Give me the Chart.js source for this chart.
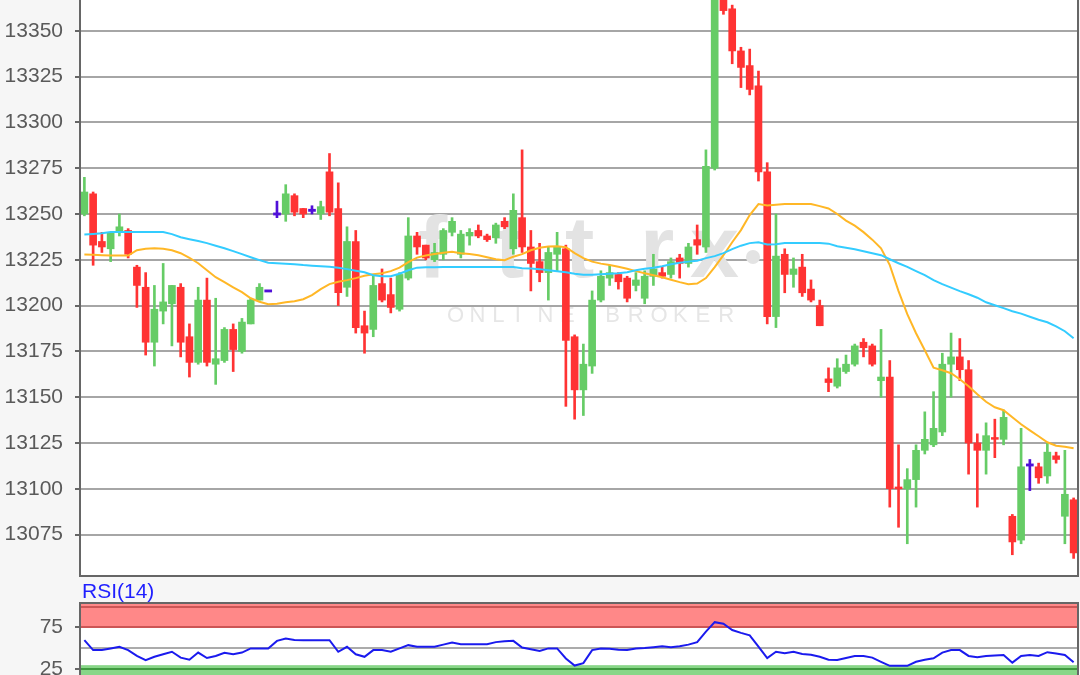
<!DOCTYPE html>
<html>
<head>
<meta charset="utf-8">
<script src="https://cdn.jsdelivr.net/npm/chart.js@4"></script>
<style>
html, body { margin: 0; padding: 0; background: #f6f6f6; overflow: hidden; }
#wrap { position: relative; width: 1080px; height: 675px; }
#priceChart { position: absolute; left: 0; top: 0; }
#rsiChart { position: absolute; left: 0; top: 580px; }
</style>
</head>
<body>
<div id="wrap">
  <canvas id="priceChart" width="1080" height="578"></canvas>
  <canvas id="rsiChart" width="1080" height="113"></canvas>
</div>
<script>
// OHLC values (one entry per candle)
const openPrices = [
  13250, 13261, 13235, 13231, 13240, 13241, 13221, 13210, 13180, 13197,
  13201, 13210, 13183, 13169, 13203, 13168, 13170, 13187, 13175, 13190,
  13203, 13208, 13250, 13250, 13260, 13253, 13252, 13250, 13273, 13253,
  13210, 13235, 13189, 13187, 13212, 13206, 13198, 13215, 13238, 13233,
  13225, 13228, 13240, 13228, 13238, 13241, 13238, 13237, 13246, 13231,
  13248, 13232, 13224, 13218, 13228, 13231, 13183, 13154, 13167, 13203,
  13215, 13217, 13215, 13211, 13204, 13216, 13218, 13217, 13226, 13223,
  13236, 13232, 13275, 13372, 13362, 13339, 13331, 13320, 13273, 13194,
  13228, 13217, 13221, 13209, 13200, 13160, 13156, 13164, 13168, 13180,
  13178, 13159, 13161, 13101, 13100, 13105, 13121, 13124, 13131, 13168,
  13172, 13165, 13125, 13121, 13128, 13127, 13085, 13072, 13113, 13112,
  13107, 13118, 13085, 13094
];
const highPrices = [
  13270, 13262, 13240, 13240, 13250, 13242, 13222, 13218, 13211, 13223,
  13211, 13212, 13190, 13210, 13215, 13204, 13188, 13190, 13193, 13204,
  13212, 13208, 13257, 13266, 13261, 13253, 13254.5, 13257, 13283, 13267,
  13243, 13241, 13197, 13217, 13220, 13215, 13218, 13248, 13240, 13233,
  13234, 13242, 13248, 13241, 13242, 13244, 13239, 13245, 13248, 13261,
  13285, 13241, 13234, 13232, 13240, 13233, 13184, 13179, 13208, 13219,
  13222, 13218, 13216, 13218, 13219, 13228, 13221, 13226, 13228, 13234,
  13244, 13285, 13378, 13376, 13364, 13341, 13340, 13328, 13278, 13250,
  13231, 13226, 13228, 13214, 13203, 13166, 13171, 13173, 13179, 13182,
  13179, 13187, 13170, 13124, 13111, 13124, 13142, 13153, 13174, 13185,
  13182, 13170, 13130, 13136, 13138, 13143, 13086, 13133, 13116, 13114,
  13125, 13120, 13121, 13095
];
const lowPrices = [
  13249, 13222, 13229, 13224, 13238, 13226, 13199, 13173, 13167, 13190,
  13178, 13172, 13161, 13168, 13167, 13157, 13169, 13164, 13174, 13190,
  13203, 13208, 13248, 13246, 13249, 13248, 13250, 13247, 13249, 13200,
  13205, 13185, 13174, 13183, 13202, 13196, 13197, 13214, 13228, 13225,
  13224, 13225, 13238, 13226, 13233, 13237, 13235, 13234, 13242, 13228,
  13229, 13208, 13213, 13203, 13219, 13145, 13138, 13140, 13163, 13202,
  13211, 13209, 13202, 13208, 13201, 13211, 13215, 13215, 13215, 13221,
  13228, 13229, 13274, 13359, 13332, 13319, 13315, 13268, 13190, 13188,
  13207, 13210, 13205, 13202, 13189, 13153, 13155, 13163, 13167, 13172,
  13167, 13150, 13090, 13079, 13070, 13090, 13119, 13123, 13129, 13150,
  13159, 13108, 13090, 13108, 13117, 13124, 13064, 13070, 13099, 13103,
  13103, 13114, 13070, 13062
];
const closePrices = [
  13262, 13233, 13232, 13240, 13243, 13228, 13211, 13180, 13198, 13202,
  13211, 13180, 13169, 13203, 13169, 13171, 13187, 13176, 13191, 13203,
  13210, 13208, 13250, 13261, 13251, 13250, 13252, 13254, 13251, 13207,
  13235, 13188, 13185, 13211, 13203, 13199, 13217, 13238, 13232, 13226,
  13229, 13241, 13246, 13239, 13240, 13238, 13236, 13244, 13243, 13252,
  13232, 13223, 13218, 13229, 13232, 13181, 13154, 13168, 13203, 13216,
  13218, 13213, 13204, 13214, 13216, 13220, 13216, 13224, 13223, 13232,
  13233, 13276, 13372, 13361, 13339, 13330, 13318, 13273, 13194, 13227,
  13217, 13220, 13207, 13203, 13189, 13158, 13166, 13168, 13178, 13177,
  13168, 13161, 13100, 13100, 13105, 13121, 13127, 13133, 13168, 13172,
  13165, 13125, 13121, 13129, 13127, 13139, 13071, 13112, 13113, 13106,
  13120, 13116, 13097, 13065
];
// moving averages as drawn on the chart
const maSlow = [
  13238.8, 13239.1, 13239.5, 13240.1, 13240.1, 13240.1, 13240.1, 13240.1, 13240.1, 13240.1,
  13239.0, 13237.3, 13236.2, 13235.2, 13234.1, 13232.7, 13231.3, 13229.7, 13228.1, 13226.4,
  13224.8, 13223.4, 13223.1, 13222.9, 13222.6, 13222.1, 13221.8, 13221.5, 13221.2, 13220.7,
  13219.9, 13219.0, 13218.2, 13216.6, 13216.0, 13216.0, 13217.4, 13219.3, 13220.7, 13220.9,
  13220.9, 13221.1, 13221.1, 13221.1, 13221.1, 13221.1, 13221.1, 13221.1, 13221.1, 13221.1,
  13220.4, 13220.2, 13219.9, 13219.3, 13218.8, 13218.2, 13217.4, 13216.9, 13216.9, 13217.1,
  13217.4, 13217.7, 13218.2, 13219.3, 13220.1, 13220.7, 13221.5, 13222.6, 13223.4, 13224.0,
  13224.5, 13225.9, 13227.0, 13228.6, 13230.8, 13232.7, 13234.1, 13234.6, 13233.3, 13233.5,
  13234.1, 13234.2, 13234.2, 13234.2, 13234.2, 13233.8, 13232.4, 13231.6, 13230.8, 13229.7,
  13228.6, 13227.5, 13225.3, 13223.1, 13221.1, 13218.8, 13216.6, 13213.9, 13211.7, 13209.8,
  13207.9, 13206.2, 13204.3, 13201.8, 13200.2, 13198.6, 13196.9, 13195.6, 13193.9, 13192.3,
  13190.9, 13188.7, 13186.0, 13182.2
];
const maFast = [
  13227.9, 13227.8, 13227.5, 13227.3, 13227.3, 13227.3, 13230.2, 13231.0, 13231.3, 13231.0,
  13230.2, 13228.6, 13226.1, 13223.1, 13219.3, 13215.5, 13212.8, 13210.0, 13207.3, 13204.0,
  13202.1, 13200.7, 13201.0, 13201.8, 13202.4, 13203.5, 13205.7, 13209.0, 13211.7, 13213.0,
  13213.9, 13215.0, 13216.3, 13217.1, 13217.7, 13218.8, 13220.7, 13223.7, 13226.2, 13227.3,
  13228.1, 13228.9, 13229.4, 13228.6, 13228.1, 13227.5, 13226.4, 13225.3, 13224.8, 13226.7,
  13228.1, 13230.2, 13231.6, 13232.2, 13232.4, 13231.9, 13228.6, 13225.9, 13224.0, 13222.9,
  13222.1, 13221.2, 13220.1, 13218.8, 13217.7, 13216.6, 13215.5, 13214.1, 13212.8, 13211.7,
  13212.0, 13215.0, 13221.0, 13227.5, 13234.6, 13241.2, 13249.4, 13255.4, 13254.6, 13255.1,
  13255.4, 13255.4, 13255.4, 13255.4, 13254.3, 13253.0, 13250.0, 13246.4, 13243.6, 13240.1,
  13236.0, 13231.3, 13222.1, 13207.9, 13195.3, 13184.9, 13175.6, 13166.1, 13164.7, 13163.1,
  13159.8, 13156.0, 13151.6, 13147.5, 13144.5, 13142.9, 13139.0, 13135.2, 13131.9, 13128.7,
  13125.4, 13123.5, 13122.9, 13122.1
];
// RSI(14)
const rsiValues = [
  59.8, 48, 48, 50, 51.9, 48, 41, 36, 40, 43,
  46, 39, 36.5, 45, 38.5, 41, 44.8, 43, 45, 50,
  50, 50, 59, 61.8, 60, 59.8, 59.8, 59.8, 59.8, 46,
  51.9, 43, 40, 48, 48, 46, 50, 53.9, 52, 52,
  52, 54.5, 57, 55, 55, 55, 55, 57.5, 58.5, 59,
  51, 49, 47, 50, 50, 38, 29.5, 32.4, 48, 50,
  49.5, 48.5, 48, 50, 50.5, 51.5, 52.7, 51.5, 52.5, 54.5,
  57.5, 70, 81.3, 79.4, 72, 68.5, 65.6, 52, 38.5, 46,
  44.1, 46, 43.3, 42.5, 40, 36.5, 36.2, 38.5, 40.9, 40.9,
  39, 34, 29.2, 29.2, 29.2, 34, 36.5, 38.2, 45, 48,
  48, 41, 39.5, 41, 41.5, 42.1, 33, 41, 42, 41,
  45.5, 44, 42.1, 33.5
];
const priceTicks = [13075, 13100, 13125, 13150, 13175, 13200, 13225, 13250, 13275, 13300, 13325, 13350];
const rsiTicks = [25, 50, 75, 100];
const rsiLabels = [25, 75];
const candleLabels = openPrices.map((v, i) => String(i + 1));

const UP = '#66cc66';
const DOWN = '#ff3333';
const DOJI = '#5010d8';

function candleColor(i) {
  if (closePrices[i] > openPrices[i]) return UP;
  if (closePrices[i] < openPrices[i]) return DOWN;
  return DOJI;
}

const bodies = openPrices.map((o, i) => {
  const c = closePrices[i];
  if (o === c) return [o - 0.6, o + 0.6];
  return [Math.min(o, c), Math.max(o, c)];
});
const wicks = lowPrices.map((l, i) => [l, highPrices[i]]);
const colors = openPrices.map((o, i) => candleColor(i));

const FONT = 'Liberation Sans, Arial, sans-serif';

// 背景、色带、水印和边框
const framePlugin = {
  id: 'frame',
  beforeDraw(chart) {
    const { ctx, chartArea: a } = chart;
    ctx.save();
    ctx.fillStyle = '#ffffff';
    ctx.fillRect(a.left, a.top, a.right - a.left, a.bottom - a.top);
    const bands = chart.options.plugins.frame.bands || [];
    const y = chart.scales.y;
    bands.forEach(b => {
      const top = y.getPixelForValue(b.to);
      const bot = y.getPixelForValue(b.from);
      ctx.fillStyle = b.color;
      ctx.fillRect(a.left, top, a.right - a.left, bot - top);
    });
    ctx.restore();
  },
  beforeDatasetsDraw(chart) {
    const wm = chart.options.plugins.frame.watermark;
    if (!wm) return;
    const { ctx } = chart;
    ctx.save();
    ctx.fillStyle = '#e3e3e3';
    ctx.font = 'bold 88px ' + FONT;
    ctx.textBaseline = 'alphabetic';
    [['f', 418], ['t', 495], ['t', 565], ['r', 640], ['x', 690]].forEach(([ch, x]) => {
      ctx.fillText(ch, x, 277);
    });
    ctx.beginPath();
    ctx.arc(753, 257, 7, 0, Math.PI * 2);
    ctx.fill();
    ctx.fillStyle = '#e6e6e6';
    ctx.font = '22px ' + FONT;
    ctx.textBaseline = 'middle';
    const word = 'ONLINE BROKER';
    for (let k = 0; k < word.length; k++) {
      ctx.fillText(word[k], 447 + k * 22.6, 316);
    }
    ctx.restore();
  },
  afterDraw(chart) {
    const { ctx, chartArea: a } = chart;
    const opts = chart.options.plugins.frame;
    ctx.save();
    ctx.strokeStyle = '#666666';
    ctx.lineWidth = 2;
    ctx.beginPath();
    if (opts.topBorder) {
      ctx.moveTo(a.left, a.bottom + 5);
      ctx.lineTo(a.left, a.top);
      ctx.lineTo(a.right, a.top);
      ctx.lineTo(a.right, a.bottom + 5);
    } else {
      ctx.moveTo(a.left, a.top);
      ctx.lineTo(a.left, a.bottom);
      ctx.lineTo(a.right, a.bottom);
      ctx.lineTo(a.right, a.top);
    }
    ctx.stroke();
    if (opts.title) {
      ctx.fillStyle = '#1f1fff';
      ctx.font = '21px ' + FONT;
      ctx.textBaseline = 'alphabetic';
      ctx.fillText(opts.title, a.left + 2, a.top - 5);
    }
    ctx.restore();
  }
};

function initPriceChart() {
  const ctx = document.getElementById('priceChart');
  new Chart(ctx, {
    type: 'bar',
    data: {
      labels: candleLabels,
      datasets: [
        {
          type: 'line', data: maSlow, borderColor: '#33ccff', borderWidth: 2,
          pointRadius: 0, tension: 0, order: 0
        },
        {
          type: 'line', data: maFast, borderColor: '#ffb726', borderWidth: 2,
          pointRadius: 0, tension: 0, order: 0
        },
        {
          data: bodies, backgroundColor: colors, barThickness: 7,
          grouped: false, order: 1
        },
        {
          data: wicks, backgroundColor: colors, barThickness: 2,
          grouped: false, order: 2
        }
      ]
    },
    options: {
      responsive: false,
      animation: false,
      devicePixelRatio: 1,
      layout: { padding: { left: 0, right: 2, top: 0, bottom: 2 } },
      plugins: {
        legend: { display: false },
        tooltip: { enabled: false },
        frame: { watermark: true }
      },
      scales: {
        x: { display: false, offset: true },
        y: {
          min: 13052.4,
          max: 13366.8,
          afterBuildTicks: (scale) => {
            scale.ticks = priceTicks.map(v => ({ value: v }));
          },
          afterFit: (scale) => {
            scale.width = 80;
            scale.paddingTop = 0;
            scale.paddingBottom = 0;
          },
          border: { display: false },
          grid: {
            color: '#a6a6a6', lineWidth: 2, drawTicks: true,
            tickLength: 5, tickColor: '#666666', tickWidth: 2
          },
          ticks: {
            color: '#5a5a5a', padding: 12,
            font: { family: FONT, size: 21 },
            callback: (v) => String(v)
          }
        }
      }
    },
    plugins: [framePlugin]
  });
}

function initRsiChart() {
  const ctx = document.getElementById('rsiChart');
  new Chart(ctx, {
    type: 'line',
    data: {
      labels: candleLabels,
      datasets: [{
        data: rsiValues, borderColor: '#1a1aee', borderWidth: 2,
        pointRadius: 0, tension: 0
      }]
    },
    options: {
      responsive: false,
      animation: false,
      devicePixelRatio: 1,
      layout: { padding: { left: 0, right: 2, top: 23, bottom: 2.7 } },
      plugins: {
        legend: { display: false },
        tooltip: { enabled: false },
        frame: {
          topBorder: true,
          title: 'RSI(14)',
          bands: [
            { from: 75, to: 104.2, color: '#ff8888' },
            { from: 0, to: 30, color: '#88d688' }
          ]
        }
      },
      scales: {
        x: { display: false, offset: true },
        y: {
          min: 0,
          max: 104.2,
          afterBuildTicks: (scale) => {
            scale.ticks = rsiTicks.map(v => ({ value: v }));
          },
          afterFit: (scale) => {
            scale.width = 80;
            scale.paddingTop = 0;
            scale.paddingBottom = 0;
          },
          border: { display: false },
          grid: {
            color: (c) => {
              const v = c.tick && c.tick.value;
              if (v === 50) return '#ababab';
              if (v >= 75) return '#cc5555';
              return '#3f9a3f';
            },
            lineWidth: 2, drawTicks: true, tickLength: 5,
            tickColor: (c) => rsiLabels.includes(c.tick && c.tick.value) ? '#666666' : 'rgba(0,0,0,0)',
            tickWidth: 2
          },
          ticks: {
            color: '#5a5a5a', padding: 12,
            font: { family: FONT, size: 21 },
            callback: (v) => rsiLabels.includes(v) ? String(v) : ''
          }
        }
      }
    },
    plugins: [framePlugin]
  });
}

initPriceChart();
initRsiChart();
</script>
</body>
</html>
